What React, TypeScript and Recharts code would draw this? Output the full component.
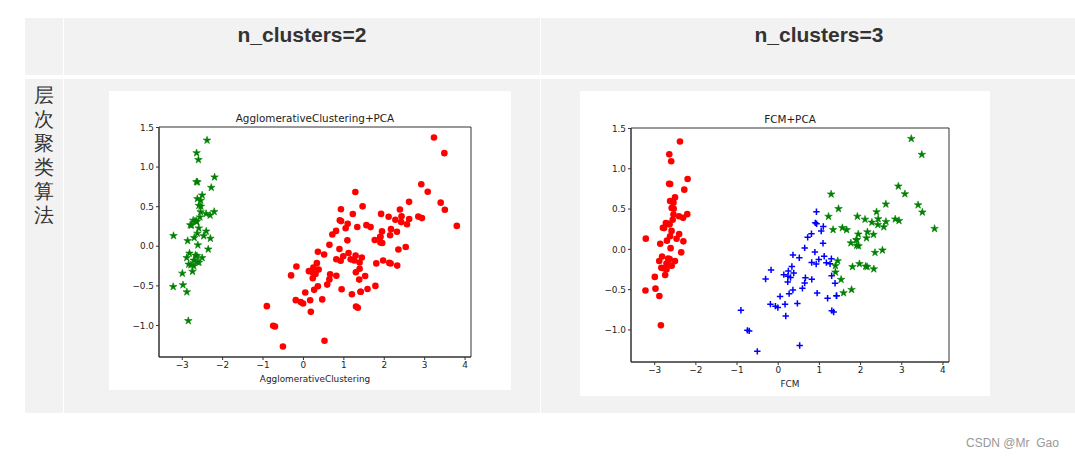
import { ScatterChart, Scatter, XAxis, YAxis, ReferenceArea } from "recharts";

// iris PCA coordinates
const setosa: [number, number][] = [
  [-2.684, 0.319], [-2.714, -0.177], [-2.889, -0.145], [-2.745, -0.318], [-2.729, 0.327],
  [-2.281, 0.741], [-2.821, -0.089], [-2.626, 0.163], [-2.886, -0.578], [-2.673, -0.114],
  [-2.507, 0.645], [-2.613, 0.015], [-2.786, -0.235], [-3.224, -0.511], [-2.645, 1.179],
  [-2.386, 1.338], [-2.624, 0.811], [-2.648, 0.312], [-2.2, 0.873], [-2.588, 0.514],
  [-2.31, 0.391], [-2.544, 0.433], [-3.216, 0.133], [-2.303, 0.099], [-2.356, -0.037],
  [-2.507, -0.146], [-2.469, 0.131], [-2.562, 0.368], [-2.64, 0.312], [-2.632, -0.197],
  [-2.587, -0.204], [-2.41, 0.411], [-2.649, 0.813], [-2.599, 1.093], [-2.637, -0.121],
  [-2.866, 0.069], [-2.625, 0.599], [-2.801, 0.269], [-2.981, -0.488], [-2.59, 0.229],
  [-2.77, 0.264], [-2.849, -0.941], [-2.997, -0.342], [-2.406, 0.189], [-2.209, 0.437],
  [-2.714, -0.25], [-2.538, 0.504], [-2.839, -0.228], [-2.543, 0.579], [-2.703, 0.108],
];

// lower-left group (blue "+" in the FCM plot)
const versicolorLow: [number, number][] = [
  [0.932, 0.318], [0.183, -0.828], [1.088, 0.075], [0.642, -0.418], [1.095, 0.283],
  [-0.749, -1.005], [1.044, 0.228], [-0.009, -0.723], [-0.508, -1.266], [0.512, -0.104],
  [0.265, -0.55], [0.985, -0.125], [-0.174, -0.255], [0.928, 0.467], [0.66, -0.353],
  [0.236, -0.334], [0.945, -0.543], [0.045, -0.584], [1.116, -0.085], [0.358, -0.069],
  [1.298, -0.328], [0.922, -0.183], [0.715, 0.149], [0.9, 0.329], [0.813, -0.163],
  [-0.306, -0.368], [-0.068, -0.705], [-0.19, -0.68], [0.136, -0.314], [1.38, -0.421],
  [0.588, -0.484], [0.807, 0.194], [0.815, -0.372], [0.246, -0.269], [0.166, -0.682],
  [0.465, -0.671], [0.891, -0.034], [0.231, -0.404], [-0.705, -1.012], [0.357, -0.505],
  [0.332, -0.213], [0.376, -0.293], [0.643, 0.018], [-0.906, -0.756], [0.299, -0.349],
];
const virginicaLow: [number, number][] = [
  [1.415, -0.575], [0.521, -1.193], [1.346, -0.777], [1.301, -0.761], [1.199, -0.606],
  [1.259, -0.18], [1.291, -0.117], [1.169, -0.165], [1.415, -0.575],
];

// upper-right group (green stars in the FCM plot)
const versicolorHigh: [number, number][] = [
  [1.285, 0.685], [1.464, 0.504], [1.332, 0.244], [1.558, 0.267], [1.221, 0.408],
];
const virginicaHigh: [number, number][] = [
  [2.531, -0.01], [2.617, 0.344], [1.972, -0.18], [2.35, -0.04], [3.397, 0.551],
  [2.933, 0.356], [2.321, -0.244], [2.917, 0.783], [1.662, 0.242], [1.803, -0.216],
  [2.166, 0.216], [1.586, -0.54], [1.904, 0.119], [1.95, 0.042], [3.487, 1.176],
  [3.796, 0.257], [2.428, 0.378], [3.5, 0.461], [1.389, -0.204], [2.275, 0.335],
  [2.614, 0.561], [2.124, -0.21], [2.388, 0.465], [2.842, 0.375], [3.231, 1.374],
  [2.159, -0.217], [1.444, -0.143], [1.781, -0.5], [3.076, 0.688], [2.144, 0.14],
  [1.905, 0.049], [2.108, 0.372], [2.314, 0.184], [1.922, 0.409], [2.563, 0.278],
  [2.419, 0.305], [1.944, 0.188], [1.527, -0.375], [1.764, 0.079], [1.901, 0.117],
  [1.39, -0.283],
];

const xTicks = [-3, -2, -1, 0, 1, 2, 3, 4];
const yTicks = [-1, -0.5, 0, 0.5, 1, 1.5];
const xDomain = [-3.575, 4.147];
const yDomain = [-1.398, 1.506];

const toPoints = (arr: [number, number][]) => arr.map(([x, y]) => ({ x, y }));

const GREEN = "#008000";
const RED = "#ff0000";
const BLUE = "#0000ff";
const AXIS = "#333";
const TICK_FONT = { fill: "#222", fontSize: 8.9, fontFamily: "DejaVu Sans" };

const minus = (s: string) => s.replace("-", "\u2212");

function Dot(props: any) {
  return <circle cx={props.cx} cy={props.cy} r={3.3} fill={RED} />;
}

function Star(props: any) {
  const { cx, cy } = props;
  const R = 4;
  const r = R * 0.382;
  let d = "";
  for (let i = 0; i < 10; i++) {
    const a = (-90 + i * 36) * (Math.PI / 180);
    const rr = i % 2 === 0 ? R : r;
    d += (i === 0 ? "M" : "L") + (cx + rr * Math.cos(a)).toFixed(2) + "," + (cy + rr * Math.sin(a)).toFixed(2);
  }
  return <path d={d + "Z"} fill={GREEN} stroke={GREEN} strokeWidth={0.6} />;
}

function Plus(props: any) {
  const { cx, cy } = props;
  return (
    <path
      d={`M${cx - 3.2},${cy}H${cx + 3.2}M${cx},${cy - 3.2}V${cy + 3.2}`}
      stroke={BLUE}
      strokeWidth={1.5}
      fill="none"
    />
  );
}

type Series = { data: { x: number; y: number }[]; shape: (p: any) => any };

function Plot({
  left, top, width, height, margin, title, xlabel, series,
}: {
  left: number; top: number; width: number; height: number;
  margin: { left: number; right: number; top: number; bottom: number };
  title: string; xlabel: string; series: Series[];
}) {
  const plotLeft = margin.left;
  const plotRight = width - margin.right;
  const center = (plotLeft + plotRight) / 2;
  return (
    <div style={{ position: "absolute", left, top, width, height, background: "#fff" }}>
      <ScatterChart width={width} height={height} margin={{ top: margin.top, right: margin.right, left: 0, bottom: 0 }}>
        <XAxis
          type="number" dataKey="x" domain={xDomain} ticks={xTicks} allowDataOverflow
          height={margin.bottom} tickSize={3} tickMargin={2} stroke={AXIS}
          tick={TICK_FONT} tickFormatter={(v: number) => minus(String(v))}
        />
        <YAxis
          type="number" dataKey="y" domain={yDomain} ticks={yTicks} allowDataOverflow
          width={margin.left} tickSize={3} tickMargin={2} stroke={AXIS}
          tick={TICK_FONT} tickFormatter={(v: number) => minus(v.toFixed(1))}
        />
        <ReferenceArea
          x1={xDomain[0]} x2={xDomain[1]} y1={yDomain[0]} y2={yDomain[1]}
          fill="none" fillOpacity={0} stroke={AXIS} strokeWidth={1} ifOverflow="visible"
        />
        {series.map((s, i) => (
          <Scatter key={i} data={s.data} shape={s.shape} isAnimationActive={false} />
        ))}
      </ScatterChart>
      <div style={{ position: "absolute", left: center - 150, width: 300, top: margin.top - 15, textAlign: "center", fontFamily: "DejaVu Sans", fontSize: 10.4, lineHeight: "12px", color: "#222" }}>
        {title}
      </div>
      <div style={{ position: "absolute", left: center - 150, width: 300, top: height - margin.bottom + 17, textAlign: "center", fontFamily: "DejaVu Sans", fontSize: 8.9, lineHeight: "10px", color: "#222" }}>
        {xlabel}
      </div>
    </div>
  );
}

const CJK = ["层", "次", "聚", "类", "算", "法"];

export default function App() {
  const cell = (l: number, t: number, w: number, h: number) => ({
    position: "absolute" as const, left: l, top: t, width: w, height: h, background: "#f2f2f2",
  });
  const head = { position: "absolute" as const, top: 22, fontFamily: "Liberation Sans, Arial, sans-serif", fontWeight: 700, fontSize: 21, color: "#333", textAlign: "center" as const, lineHeight: "26px" };
  return (
    <div style={{ position: "absolute", left: 0, top: 0, width: 1075, height: 458, background: "#fff", overflow: "hidden" }}>
      <div style={cell(25, 18, 38, 57)} />
      <div style={cell(64, 18, 476, 57)} />
      <div style={cell(541, 18, 556, 57)} />
      <div style={cell(25, 79, 38, 334)} />
      <div style={cell(64, 79, 476, 334)} />
      <div style={cell(541, 79, 556, 334)} />
      <div style={{ ...head, left: 64, width: 476 }}>n_clusters=2</div>
      <div style={{ ...head, left: 541, width: 556 }}>n_clusters=3</div>
      <div style={{ position: "absolute", left: 25, width: 38, top: 83, textAlign: "center", fontFamily: "serif", fontSize: 20, lineHeight: "24px", color: "#333" }}>
        {CJK.map((c) => (
          <div key={c}>{c}</div>
        ))}
      </div>
      <Plot
        left={109} top={91} width={402} height={299}
        margin={{ left: 50, right: 40, top: 36, bottom: 33 }}
        title="AgglomerativeClustering+PCA" xlabel="AgglomerativeClustering"
        series={[
          { data: toPoints([...versicolorLow, ...versicolorHigh, ...virginicaLow, ...virginicaHigh]), shape: Dot },
          { data: toPoints(setosa), shape: Star },
        ]}
      />
      <Plot
        left={580} top={91} width={410} height={305}
        margin={{ left: 51, right: 41, top: 37, bottom: 34 }}
        title="FCM+PCA" xlabel="FCM"
        series={[
          { data: toPoints(setosa), shape: Dot },
          { data: toPoints([...versicolorLow, ...virginicaLow]), shape: Plus },
          { data: toPoints([...virginicaHigh, ...versicolorHigh]), shape: Star },
        ]}
      />
      <div style={{ position: "absolute", left: 966, top: 436, fontFamily: "Liberation Sans, Arial, sans-serif", fontSize: 12, color: "#999", whiteSpace: "pre" }}>
        {"CSDN @Mr  Gao"}
      </div>
    </div>
  );
}
